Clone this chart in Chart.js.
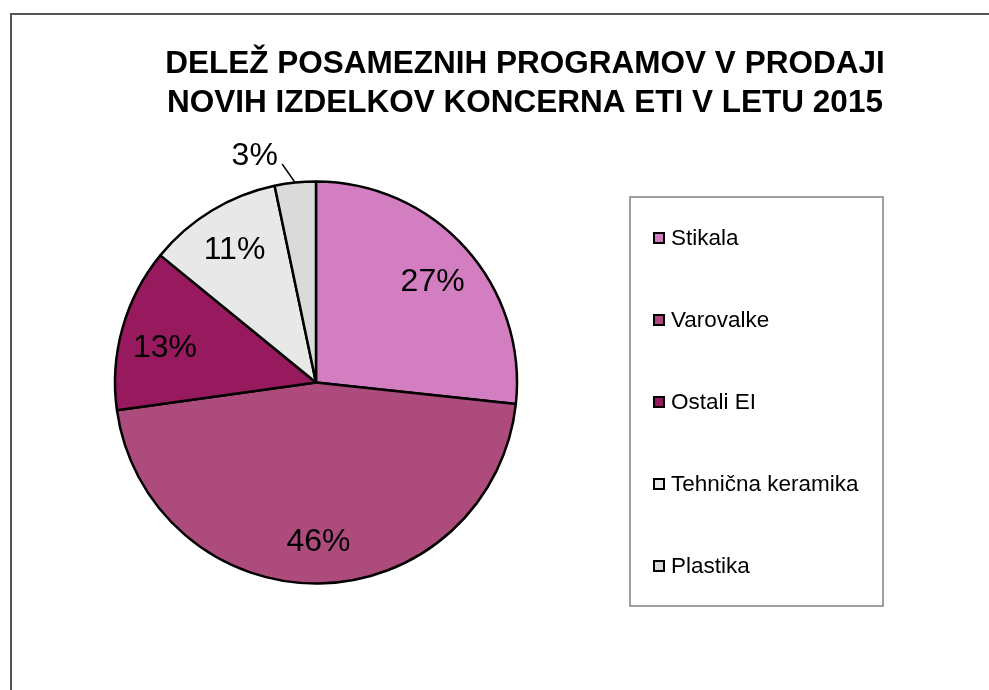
<!DOCTYPE html>
<html>
<head>
<meta charset="utf-8">
<script src="https://cdn.jsdelivr.net/npm/chart.js@4/dist/chart.umd.min.js"></script>
<style>
  html, body { margin: 0; padding: 0; background: #fff; }
  #c { display: block; }
</style>
</head>
<body>
<canvas id="c" width="989" height="690"></canvas>
<script>
const titleLines = ["DELEŽ POSAMEZNIH PROGRAMOV V PRODAJI", "NOVIH IZDELKOV KONCERNA ETI V LETU 2015"];
const categories = ["Stikala", "Varovalke", "Ostali EI", "Tehnična keramika", "Plastika"];
const shares = [26.7, 46.1, 13.1, 10.8, 3.3];
const sliceColors = ["#D47EC2", "#AD4B7C", "#961A5D", "#E8E8E8", "#DADADA"];

const FONT = "'Liberation Sans', Arial, sans-serif";

const decor = {
  id: 'decor',
  beforeDraw(chart) {
    const ctx = chart.ctx;
    ctx.save();
    ctx.fillStyle = '#fff';
    ctx.fillRect(0, 0, chart.width, chart.height);
    // outer frame
    ctx.strokeStyle = '#555';
    ctx.lineWidth = 2;
    ctx.strokeRect(11, 14, chart.width + 20, chart.height + 20);
    // title
    ctx.fillStyle = '#000';
    ctx.font = "bold 31.5px " + FONT;
    ctx.textAlign = 'center';
    ctx.textBaseline = 'alphabetic';
    titleLines.forEach((t, i) => ctx.fillText(t, 525, 73 + i * 39));
    // legend box
    ctx.strokeStyle = '#808080';
    ctx.lineWidth = 1.5;
    ctx.strokeRect(630, 197, 253, 409);
    ctx.font = "22.5px " + FONT;
    ctx.textAlign = 'left';
    ctx.textBaseline = 'middle';
    chart.data.labels.forEach((lab, i) => {
      const y = 238 + i * 82;
      ctx.fillStyle = chart.data.datasets[0].backgroundColor[i];
      ctx.fillRect(654, y - 5, 10, 10);
      ctx.strokeStyle = '#000';
      ctx.lineWidth = 2;
      ctx.strokeRect(654, y - 5, 10, 10);
      ctx.fillStyle = '#000';
      ctx.fillText(lab, 671, y + 1);
    });
    ctx.restore();
  },
  afterDatasetsDraw(chart) {
    const ctx = chart.ctx;
    const meta = chart.getDatasetMeta(0);
    const data = chart.data.datasets[0].data;
    const total = data.reduce((a, b) => a + b, 0);
    ctx.save();
    ctx.font = "32px " + FONT;
    ctx.fillStyle = '#000';
    ctx.textAlign = 'center';
    ctx.textBaseline = 'middle';
    meta.data.forEach((arc, i) => {
      const p = arc.getProps(['x', 'y', 'startAngle', 'endAngle', 'outerRadius'], true);
      const mid = (p.startAngle + p.endAngle) / 2;
      const r = p.outerRadius;
      const txt = Math.round(data[i] / total * 100) + '%';
      if (data[i] / total < 0.05) {
        const a1 = mid, a2 = mid - 0.05, a3 = mid - 0.16;
        ctx.strokeStyle = '#000';
        ctx.lineWidth = 1.5;
        ctx.beginPath();
        ctx.moveTo(p.x + Math.cos(a1) * r, p.y + Math.sin(a1) * r);
        ctx.lineTo(p.x + Math.cos(a2) * r * 1.1, p.y + Math.sin(a2) * r * 1.1);
        ctx.stroke();
        ctx.fillText(txt, p.x + Math.cos(a3) * r * 1.17, p.y + Math.sin(a3) * r * 1.17 + 1);
      } else {
        const c = Math.cos(mid);
        ctx.fillText(txt, p.x + c * r * 0.78, p.y + Math.sin(mid) * r * 0.79 + 8 * c * c + 1);
      }
    });
    ctx.restore();
  }
};

new Chart(document.getElementById('c'), {
  type: 'pie',
  data: {
    labels: categories,
    datasets: [{
      data: shares,
      backgroundColor: sliceColors,
      borderColor: '#000',
      borderWidth: 2.5,
      borderAlign: 'center'
    }]
  },
  options: {
    responsive: false,
    devicePixelRatio: 1,
    animation: false,
    radius: 201,
    layout: { padding: { left: 114, right: 471, top: 180, bottom: 105 } },
    plugins: {
      legend: { display: false },
      title: { display: false },
      tooltip: { enabled: false }
    }
  },
  plugins: [decor]
});
</script>
</body>
</html>
